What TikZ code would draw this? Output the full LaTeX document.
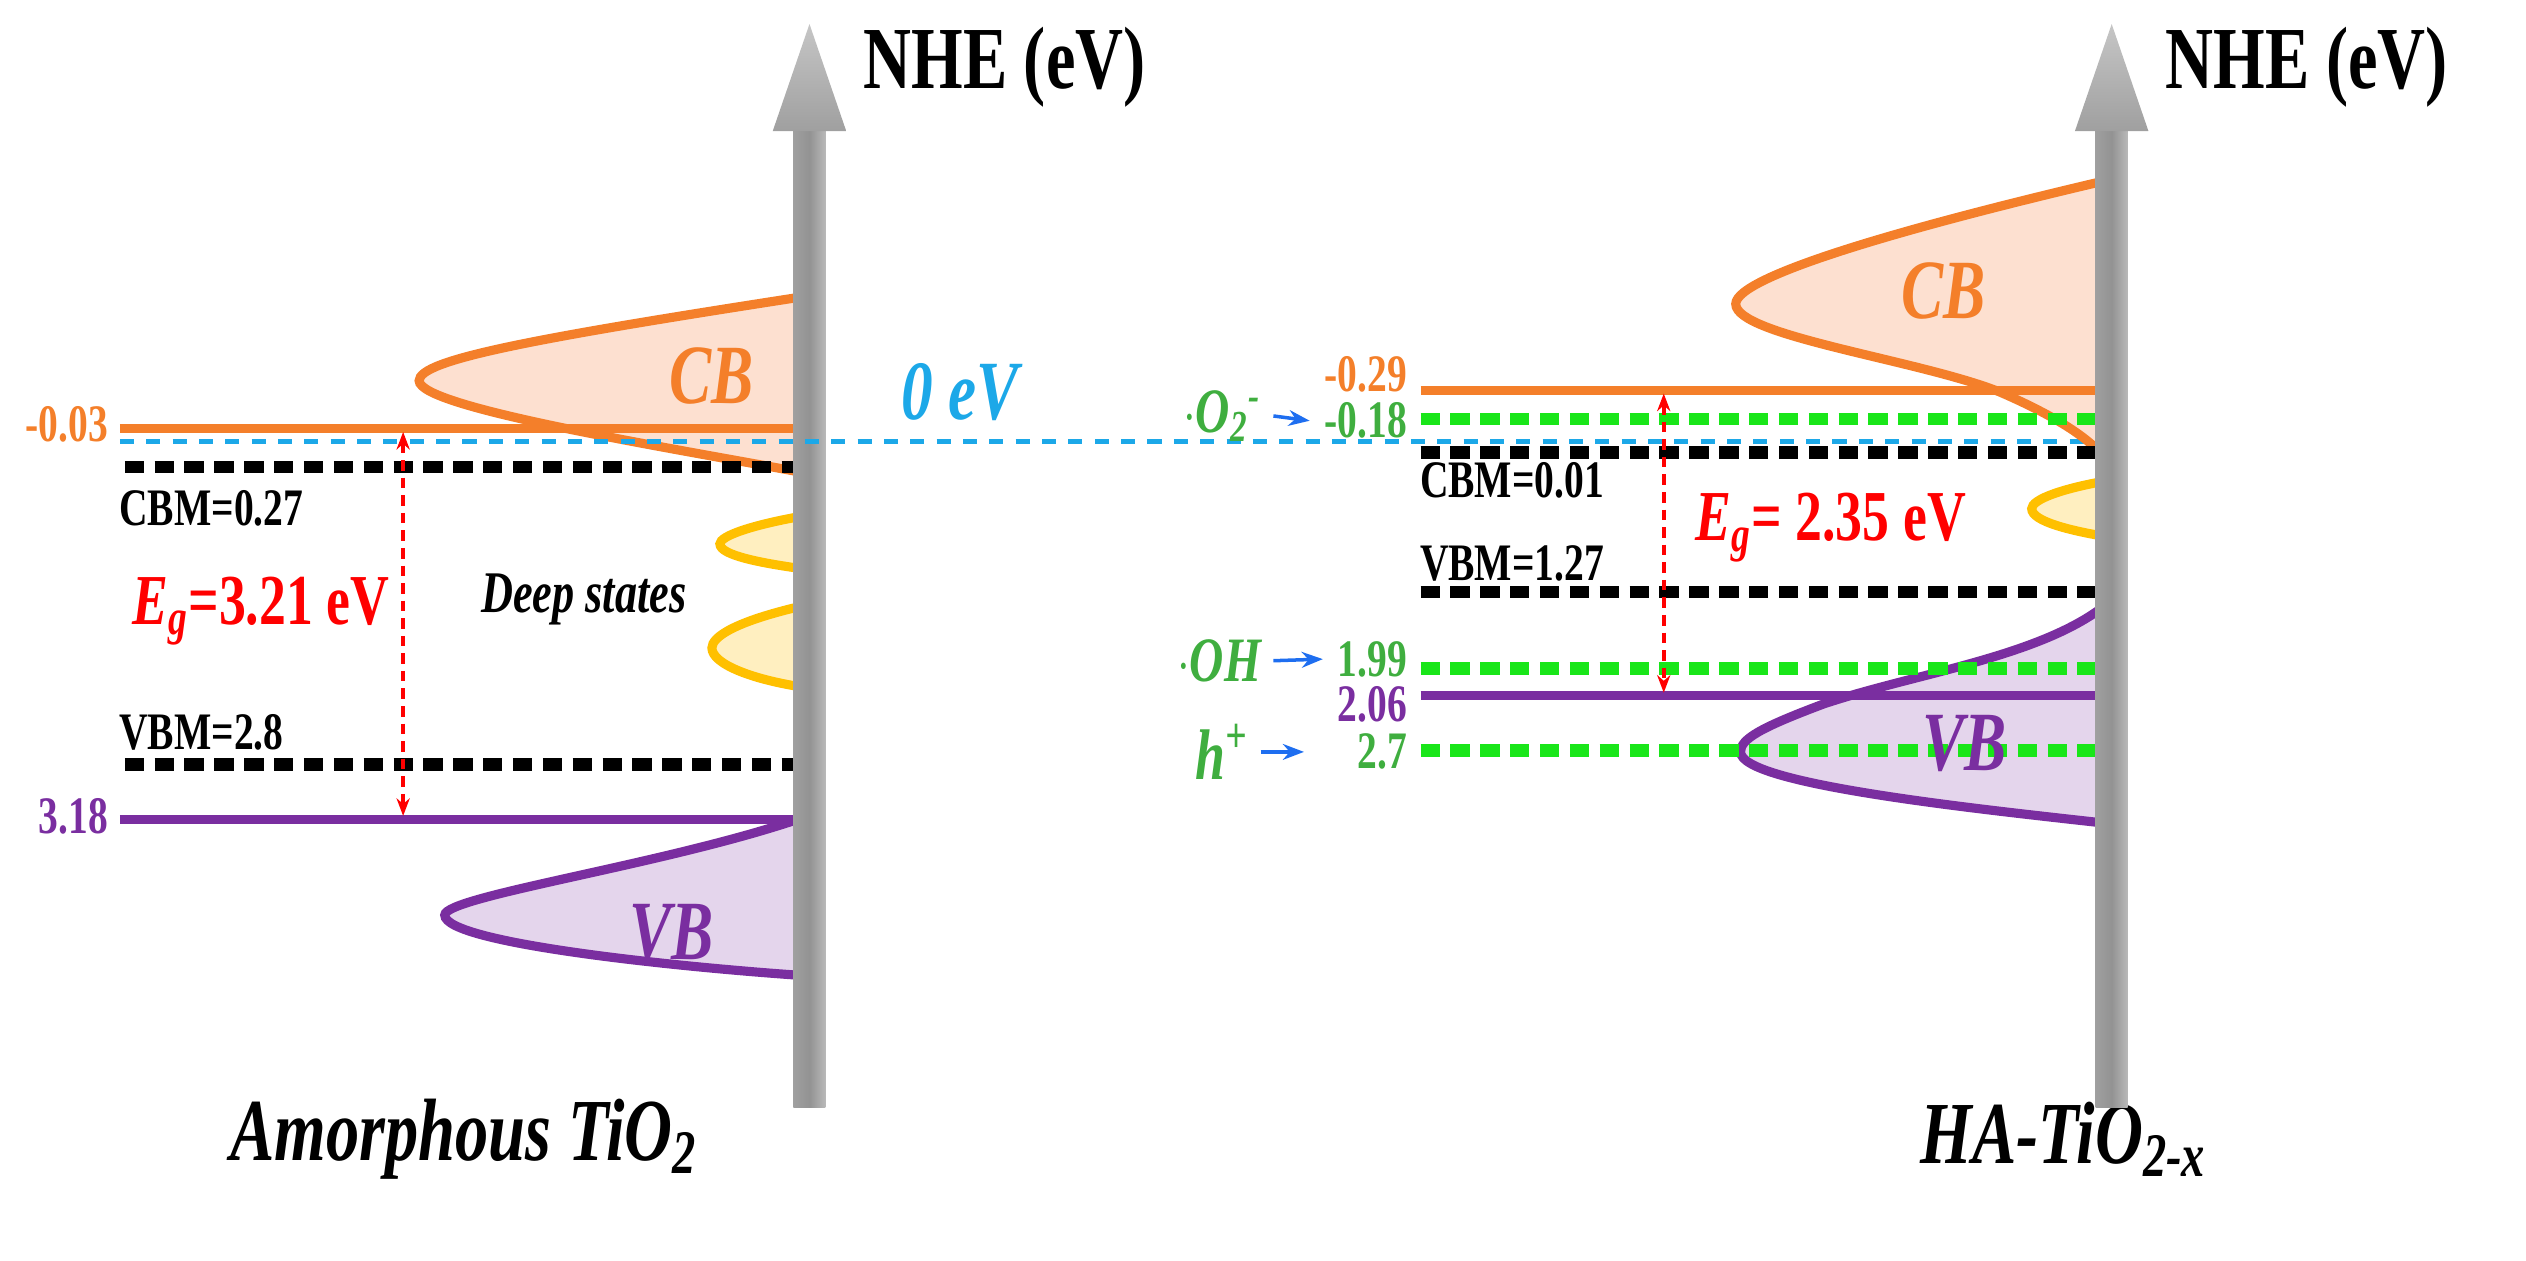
\documentclass[tikz,border=0pt]{standalone}
\usepackage{fontspec}
\setmainfont{Liberation Serif}
\usetikzlibrary{arrows.meta}
\definecolor{cbor}{HTML}{F47F2A}
\definecolor{cbfill}{HTML}{FDE0D0}
\definecolor{vbpu}{HTML}{7A2EA0}
\definecolor{vbfill}{HTML}{E4D5EC}
\definecolor{dsy}{HTML}{FFC000}
\definecolor{dsfill}{HTML}{FFEFC0}
\definecolor{zblue}{HTML}{1CA8E8}
\definecolor{rgreen}{HTML}{19E619}
\definecolor{tgreen}{HTML}{3FAE3F}
\definecolor{abl}{HTML}{1E6EF0}
\newcommand\tallt[1]{\scalebox{0.9}[1.2]{#1}}
\begin{document}
\begin{tikzpicture}[x=0.016cm,y=-0.016cm,
  lbl/.style={font=\fontsize{12.5}{12.5}\selectfont\bfseries,inner sep=1pt},
  band/.style={line width=2.6pt},
  blk/.style={line width=3.6pt,dash pattern=on 5.5pt off 3pt},
  grn/.style={rgreen,line width=3.6pt,dash pattern=on 5.5pt off 3pt},
  zero/.style={zblue,line width=1.6pt,dash pattern=on 4pt off 3.5pt},
  gap/.style={red,line width=1pt,dash pattern=on 3pt off 2pt,{Stealth[length=5pt]}-{Stealth[length=5pt]}},
  rad/.style={abl,line width=1pt,-{Stealth[length=6pt]}},
  bandlbl/.style={font=\fontsize{20}{20}\selectfont\bfseries\itshape},
  nhe/.style={font=\fontsize{21}{21}\selectfont\bfseries,anchor=west},
  title/.style={font=\fontsize{21}{21}\selectfont\bfseries\itshape}]
\useasboundingbox (0,0) rectangle (1579,788);
% ---------- LEFT PANEL ----------
\draw[cbor,fill=cbfill,line width=2.6pt] (505,185) .. controls (330,212) and (262,225) .. (262,238) .. controls (262,255) and (420,280) .. (505,296);
\draw[dsy,fill=dsfill,line width=2.6pt] (505,322) .. controls (470,328) and (450,335) .. (450,340) .. controls (450,347) and (475,352) .. (505,356);
\draw[dsy,fill=dsfill,line width=2.6pt] (505,378) .. controls (460,388) and (445,398) .. (445,405) .. controls (445,415) and (470,425) .. (505,430);
\draw[vbpu,fill=vbfill,line width=2.6pt] (505,510) .. controls (420,540) and (278,560) .. (278,572) .. controls (278,590) and (430,605) .. (505,610);
\coordinate (lcbL) at (75,268); \coordinate (lcbR) at (505,268);
\coordinate (zL) at (75,276); \coordinate (zR) at (1310,276);
\coordinate (lcbmL) at (78,292); \coordinate (lcbmR) at (505,292);
\coordinate (lvbmL) at (78,478); \coordinate (lvbmR) at (505,478);
\coordinate (lvbL) at (75,512); \coordinate (lvbR) at (505,512);
\draw[band,cbor] (lcbL) -- (lcbR);
\draw[blk] (lcbmL) -- (lcbmR);
\draw[blk] (lvbmL) -- (lvbmR);
\draw[band,vbpu] (lvbL) -- (lvbR);
\coordinate (lgT) at (252,270); \coordinate (lgB) at (252,510);
\draw[gap] (lgT) -- (lgB);
\node[lbl,cbor,anchor=east] (l003) at (70,265) {\tallt{-0.03}};
\node[lbl,anchor=west] (lcbm) at (72,318) {\tallt{CBM=0.27}};
\node[lbl,anchor=west] (lvbm) at (72,458) {\tallt{VBM=2.8}};
\node[lbl,vbpu,anchor=east] (l318) at (70,510) {\tallt{3.18}};
\node[red,font=\fontsize{17}{17}\selectfont\bfseries] (leg) at (163,382) {\tallt{\textit{E}\textsubscript{\textit{g}}=3.21 eV}};
\node[font=\fontsize{14}{14}\selectfont\bfseries\itshape] (lds) at (365,375) {\tallt{Deep states}};
\node[bandlbl,cbor] (lcbt) at (445,235) {\tallt{CB}};
\node[bandlbl,vbpu] (lvbt) at (420,583) {\tallt{VB}};
\node[font=\fontsize{20}{20}\selectfont\bfseries\itshape,zblue] (zev) at (600,245) {\tallt{0 eV}};
\node[title] (lt) at (290,712) {\tallt{Amorphous TiO\textsubscript{2}}};
% left axis
\shade[left color=gray!75,right color=gray!55,middle color=gray!85] (496,80) rectangle (516,692);
\shade[top color=gray!45,bottom color=gray!75] (506,15) -- (529,82) -- (483,82) -- cycle;
\node[nhe] (lnhe) at (532,42) {\tallt{NHE (eV)}};
% ---------- RIGHT PANEL ----------
\draw[zero] (zL) -- (zR);
\draw[cbor,fill=cbfill,line width=2.6pt] (1320,112) .. controls (1200,140) and (1085,172) .. (1085,190) .. controls (1085,210) and (1200,225) .. (1250,245) .. controls (1280,258) and (1300,270) .. (1312,282) -- (1320,282) -- cycle;
\draw[dsy,fill=dsfill,line width=2.6pt] (1320,300) .. controls (1290,305) and (1270,312) .. (1270,318) .. controls (1270,326) and (1295,332) .. (1320,336);
\draw[vbpu,fill=vbfill,line width=2.6pt] (1320,375) .. controls (1280,410) and (1200,420) .. (1140,440) .. controls (1100,455) and (1088,462) .. (1088,470) .. controls (1088,490) and (1230,505) .. (1320,515);
\coordinate (rcbL) at (888,244); \coordinate (rcbR) at (1320,244);
\coordinate (ro2L) at (888,262); \coordinate (ro2R) at (1320,262);
\coordinate (rcbmL) at (888,283); \coordinate (rcbmR) at (1320,283);
\coordinate (rvbmL) at (888,370); \coordinate (rvbmR) at (1320,370);
\coordinate (rohL) at (888,418); \coordinate (rohR) at (1320,418);
\coordinate (rvbL) at (888,435); \coordinate (rvbR) at (1320,435);
\coordinate (rhL) at (888,469); \coordinate (rhR) at (1320,469);
\draw[band,cbor] (rcbL) -- (rcbR);
\draw[grn] (ro2L) -- (ro2R);
\draw[blk] (rcbmL) -- (rcbmR);
\draw[blk] (rvbmL) -- (rvbmR);
\draw[grn] (rohL) -- (rohR);
\draw[band,vbpu] (rvbL) -- (rvbR);
\draw[grn] (rhL) -- (rhR);
\coordinate (rgT) at (1040,246); \coordinate (rgB) at (1040,433);
\draw[gap] (rgT) -- (rgB);
\node[lbl,cbor,anchor=east] (r029) at (882,234) {\tallt{-0.29}};
\node[lbl,tgreen,anchor=east] (r018) at (882,263) {\tallt{-0.18}};
\node[lbl,tgreen,anchor=east] (r199) at (882,412) {\tallt{1.99}};
\node[lbl,vbpu,anchor=east] (r206) at (882,440) {\tallt{2.06}};
\node[lbl,tgreen,anchor=east] (r27) at (882,470) {\tallt{2.7}};
\node[lbl,anchor=west] (rcbm) at (885,300) {\tallt{CBM=0.01}};
\node[lbl,anchor=west] (rvbm) at (885,352) {\tallt{VBM=1.27}};
\node[tgreen,font=\fontsize{15}{15}\selectfont\bfseries\itshape,anchor=east] (o2) at (796,260) {\tallt{$\cdot$O\textsubscript{2}\textsuperscript{-}}};
\node[tgreen,font=\fontsize{15}{15}\selectfont\bfseries\itshape,anchor=east] (oh) at (796,413) {\tallt{$\cdot$OH}};
\node[tgreen,font=\fontsize{17}{17}\selectfont\bfseries\itshape,anchor=east] (hp) at (788,470) {\tallt{h\textsuperscript{+}}};
\draw[rad] (o2.east) -- ([xshift=-3]r018.west);
\draw[rad] (oh.east) -- ([xshift=-3]r199.west);
\draw[rad] (hp.east) -- ([xshift=-14]r27.west);
\node[red,font=\fontsize{17}{17}\selectfont\bfseries,anchor=west] (reg) at (1052,330) {\tallt{\textit{E}\textsubscript{\textit{g}}= 2.35 eV}};
\node[bandlbl,cbor] (rcbt) at (1215,182) {\tallt{CB}};
\node[bandlbl,vbpu] (rvbt) at (1228,465) {\tallt{VB}};
\node[title] (rt) at (1290,712) {\tallt{HA-TiO\textsubscript{2-\textit{x}}}};
% right axis
\shade[left color=gray!75,right color=gray!55,middle color=gray!85] (1310,80) rectangle (1330,692);
\shade[top color=gray!45,bottom color=gray!75] (1320,15) -- (1343,82) -- (1297,82) -- cycle;
\node[nhe] (rnhe) at (1346,42) {\tallt{NHE (eV)}};
\end{tikzpicture}
\end{document}
